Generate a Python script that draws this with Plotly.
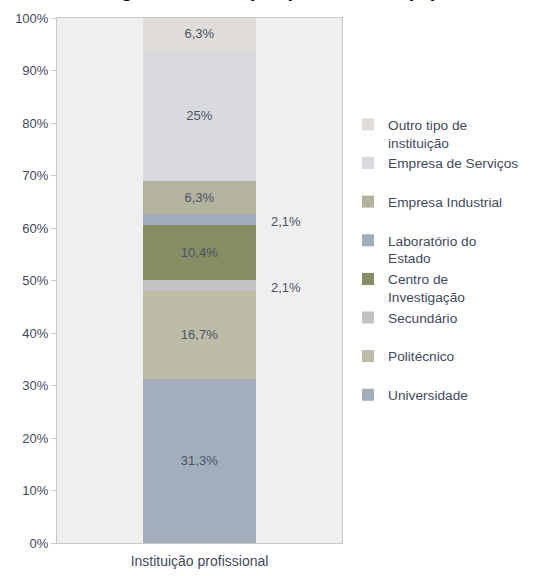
import plotly.graph_objects as go

# ข้อมูลจากกราฟ (ล่างขึ้นบน)
categories = ["Instituição profissional"]
series_names = [
    "Universidade",
    "Politécnico",
    "Secundário",
    "Centro de<br>Investigação",
    "Laboratório do<br>Estado",
    "Empresa Industrial",
    "Empresa de Serviços",
    "Outro tipo de<br>instituição",
]
series_values = [31.3, 16.7, 2.1, 10.4, 2.1, 6.3, 25.0, 6.3]
series_colors = [
    "#A3AEBC", "#BDBDA7", "#C2C2C2", "#878C62",
    "#A0ABBB", "#B3B39E", "#D8DADE", "#E0DDD8",
]
y_ticks = [0, 10, 20, 30, 40, 50, 60, 70, 80, 90, 100]
title_text = "Figura 5 - Situação profissional (%)"

label_color = "#4A5468"
small_cut = 3  # ค่าน้อยกว่านี้ให้วางป้ายไว้ด้านนอก


def _fmt(v):
    s = f"{v:.1f}".replace(".", ",")
    return s[:-2] + "%" if s.endswith(",0") else s + "%"


fig = go.Figure()
bottom = 0.0
outside = []
for name, val, col in zip(series_names, series_values, series_colors):
    # ทำให้ทุกรายการใน legend สูงเท่ากัน (2 บรรทัด)
    legend_name = name if "<br>" in name else name + "<br>\u00a0"
    fig.add_trace(go.Bar(
        x=categories, y=[val], name=legend_name,
        marker=dict(color=col, line=dict(width=0)),
        text=[_fmt(val) if val >= small_cut else ""],
        textposition="inside", insidetextanchor="middle",
        textfont=dict(color=label_color, size=13, family="Liberation Sans, Arial"),
        width=0.397, hoverinfo="skip",
    ))
    if val < small_cut:
        outside.append((bottom + val / 2, _fmt(val)))
    bottom += val

for ypos, txt in outside:
    fig.add_annotation(
        x=categories[0], y=ypos, text=txt, showarrow=False,
        xshift=86, yshift=-2,
        font=dict(color=label_color, size=13, family="Liberation Sans, Arial"),
    )

# ชื่อกราฟถูกตัดขอบบนเหมือนต้นฉบับ
fig.add_annotation(
    text=f"<b>{title_text}</b>", showarrow=False,
    xref="paper", yref="paper", x=(270 - 57) / 285, y=1,
    xanchor="center", yanchor="bottom", yshift=15,
    font=dict(size=20, color="black", family="Liberation Sans, Arial"),
)

fig.update_layout(
    barmode="stack",
    width=540, height=576,
    margin=dict(l=57, r=198, t=18, b=33, autoexpand=False),
    paper_bgcolor="white",
    plot_bgcolor="#EFEFEF",
    font=dict(family="Liberation Sans, Arial", size=12, color=label_color),
    showlegend=True,
    legend=dict(
        traceorder="reversed",
        xref="container", yref="container",
        x=348 / 540, xanchor="left",
        y=1 - 109 / 576, yanchor="top",
        valign="top",
        font=dict(size=13.7, color="#3F4A5C"),
        itemwidth=30,
        maxheight=520,
        bgcolor="rgba(0,0,0,0)",
    ),
    xaxis=dict(
        showline=True, mirror=True, linecolor="#C9C9C9", linewidth=1,
        tickfont=dict(size=14, color="#3F4A5C"),
        ticks="", showgrid=False, ticklabelstandoff=5, automargin=False,
    ),
    yaxis=dict(
        range=[0, 100], tickvals=y_ticks,
        ticktext=[f"{t}%" for t in y_ticks],
        showline=True, mirror=True, linecolor="#C9C9C9", linewidth=1,
        ticks="outside", ticklen=5, tickcolor="#C9C9C9",
        tickfont=dict(size=13, color="#3F4A5C"),
        showgrid=False, zeroline=False, automargin=False,
    ),
)

# ตัดขอบ body ของหน้า html ออก ให้กราฟชิดมุมซ้ายบน
fig.write_html(
    "out.html",
    config={"displayModeBar": False},
    post_script="document.body.style.margin='0';",
)
